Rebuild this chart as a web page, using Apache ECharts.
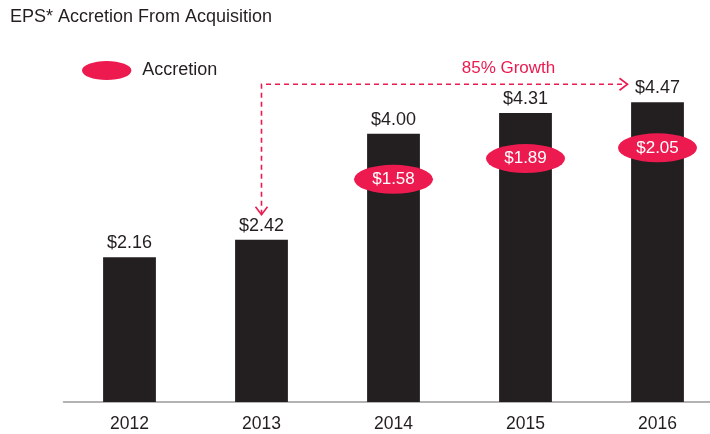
<!DOCTYPE html>
<html>
<head>
<meta charset="utf-8">
<script src="https://cdn.jsdelivr.net/npm/echarts@6/dist/echarts.min.js"></script>
<style>
html, body { margin: 0; padding: 0; background: #fff; }
#pic_chart { width: 710px; height: 434px; }
</style>
</head>
<body>
<div id="pic_chart"></div>
<script>
var years = ['2012', '2013', '2014', '2015', '2016'];
var eps = [2.16, 2.42, 4.00, 4.31, 4.47];
var accretion = [null, null, 1.58, 1.89, 2.05];
var growthText = '85% Growth';

var black = '#231f20';
var red = '#ec1a4f';
var font = '"Liberation Sans", Arial, sans-serif';

// badges sit a bit below the top of each bar
var badgeData = [];
for (var i = 0; i < years.length; i++) {
    if (accretion[i] != null) {
        badgeData.push({ value: [i, eps[i] - 0.68], acc: accretion[i] });
    }
}

var myChart = echarts.init(document.getElementById('pic_chart'));
option = {
    animation: false,
    textStyle: { fontFamily: font },
    title: {
        text: 'EPS* Accretion From Acquisition',
        left: 5,
        top: 3,
        textStyle: { fontSize: 18, fontWeight: 'normal', color: black, fontFamily: font }
    },
    legend: {
        data: ['Accretion'],
        left: 77,
        top: 56,
        icon: 'path://M0,10a26,10 0 1,0 52,0a26,10 0 1,0 -52,0',
        itemWidth: 53,
        itemHeight: 19,
        textStyle: { fontSize: 18, color: black, padding: [0, 0, 0, 4], fontFamily: font }
    },
    grid: {
        left: 63.5,
        width: 660,
        top: 60,
        bottom: 32,
        outerBoundsMode: 'none',
        containLabel: false
    },
    xAxis: {
        type: 'category',
        data: years,
        axisLine: { lineStyle: { color: '#9a9a9a', width: 1.5 } },
        axisTick: { show: false },
        axisLabel: { fontSize: 17.5, color: black, margin: 13, fontFamily: font }
    },
    yAxis: {
        type: 'value',
        min: 0,
        max: 5.1,
        show: false,
        splitLine: { show: false }
    },
    series: [
        {
            name: 'EPS',
            type: 'bar',
            data: eps,
            barWidth: '40%',
            itemStyle: { color: black },
            label: {
                show: true,
                position: 'top',
                distance: 5,
                fontSize: 18,
                color: black,
                fontFamily: font,
                formatter: function (p) { return '$' + p.value.toFixed(2); }
            }
        },
        {
            name: 'Accretion',
            type: 'scatter',
            data: badgeData,
            symbol: 'circle',
            symbolSize: [79, 29],
            itemStyle: { color: red, opacity: 1 },
            label: {
                show: true,
                position: 'inside',
                fontSize: 17,
                color: '#fff',
                fontFamily: font,
                formatter: function (p) { return '$' + p.data.acc.toFixed(2); }
            },
            z: 5
        }
    ]
};
myChart.setOption(option);

// dashed growth arrow from the 2013 bar to the 2016 bar
var p13 = myChart.convertToPixel({ gridIndex: 0 }, [1, eps[1]]);
var p16 = myChart.convertToPixel({ gridIndex: 0 }, [4, eps[4]]);
var xs = p13[0], ys = p13[1] - 25;
var yh = p16[1] - 18;
var xe = p16[0] - 30;
var dash = { stroke: red, lineWidth: 1.6, lineDash: [5, 4] };
var solid = { stroke: red, lineWidth: 1.6, fill: null };
myChart.setOption({
    graphic: [
        { type: 'polyline', shape: { points: [[xs, ys], [xs, yh], [xe, yh]] }, style: dash, z: 10 },
        { type: 'polyline', shape: { points: [[xs - 6, ys - 8], [xs, ys], [xs + 6, ys - 8]] }, style: solid, z: 10 },
        { type: 'polyline', shape: { points: [[xe - 8, yh - 6], [xe, yh], [xe - 8, yh + 6]] }, style: solid, z: 10 },
        {
            type: 'text',
            x: xe - 119,
            y: yh - 16,
            style: { text: growthText, fill: red, fontSize: 17, fontFamily: font, align: 'center', verticalAlign: 'middle' },
            z: 10
        }
    ]
});
</script>
</body>
</html>
